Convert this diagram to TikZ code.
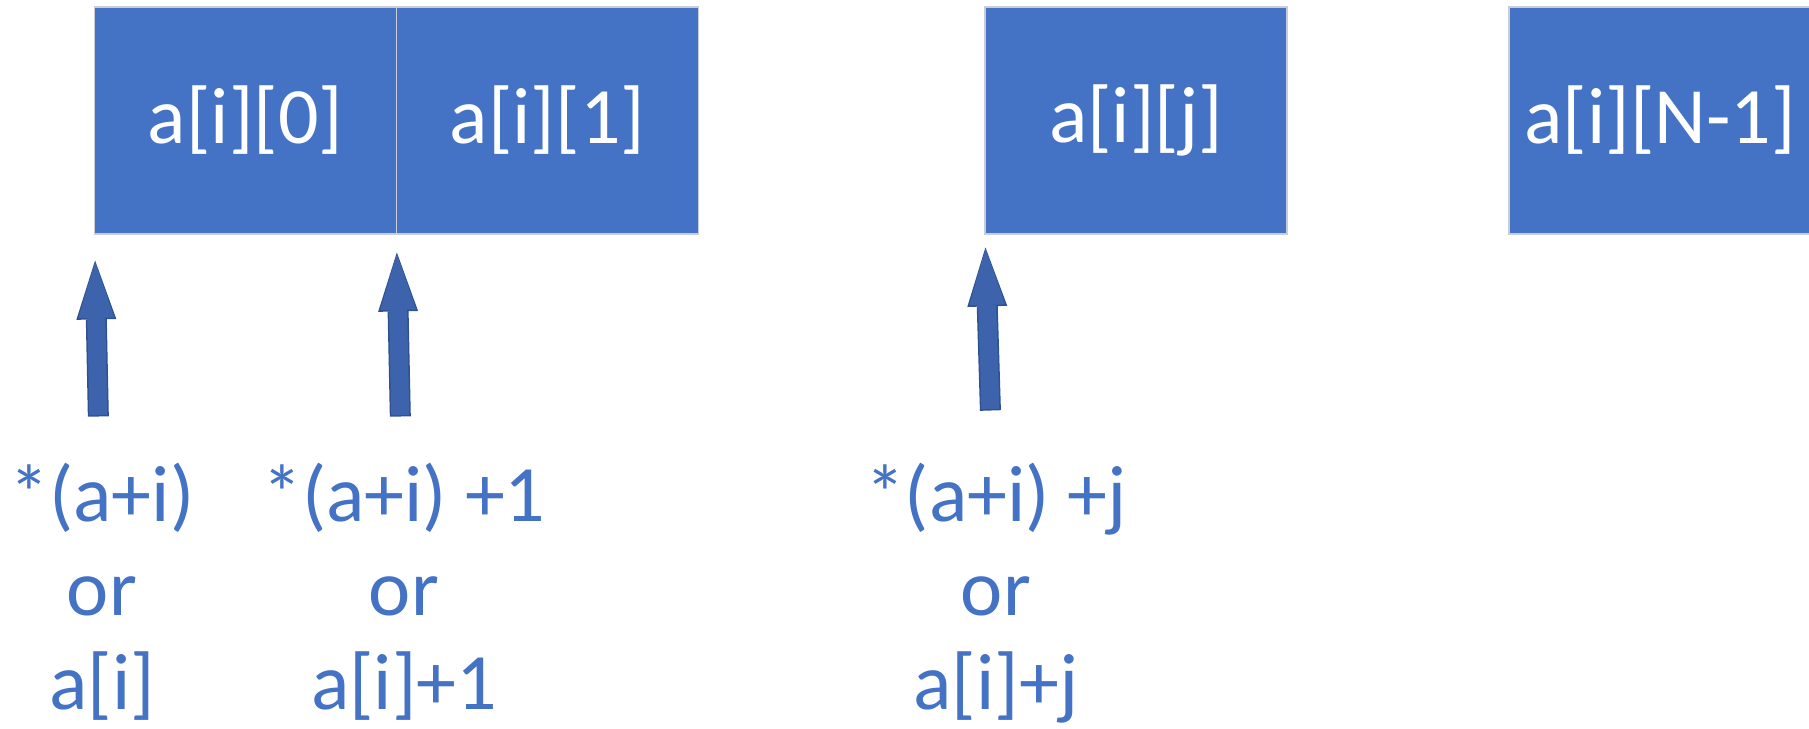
\documentclass[tikz,border=0pt]{standalone}
\usepackage{fontspec}
\setmainfont{Carlito}
\usetikzlibrary{arrows.meta, positioning}

\definecolor{cellblue}{RGB}{68,114,196}
\definecolor{ptrfill}{RGB}{61,99,172}
\definecolor{ptrline}{RGB}{47,82,143}
\definecolor{cellline}{RGB}{200,205,215}

\begin{document}
\begin{tikzpicture}[x=0.02cm, y=0.02cm,
    cell/.style={rectangle, fill=cellblue, draw=cellline, line width=0.024cm, minimum width=6.04cm, minimum height=4.54cm, outer sep=0pt, text=white, font=\fontsize{45.5}{54}\selectfont},
    addr/.style={align=center, inner sep=0pt, text=cellblue, font=\fontsize{45.5}{53.4}\selectfont},
    ptr/.style 2 args={preaction={draw=ptrline, line width=0.42cm, -{Triangle[width=0.80cm, length=1.18cm, line width=0pt]}, shorten <=#1-0.03cm, shorten >=#2-0.03cm},
                       draw=ptrfill, line width=0.36cm, -{Triangle[width=0.72cm, length=1.12cm, line width=0pt]}, shorten <=#1, shorten >=#2}]
  \useasboundingbox (0,0) rectangle (1809,729);

  \node[cell] (row0) at (245.5,608.5)           {a[i][0]};
  \node[cell] (row1) [right=0pt of row0]        {a[i][1]};
  \node[cell] (rowj) at (1136,608.5)            {a[i][j]};
  \node[cell] (rowN) at (1660,608.5)            {a[i][N-1]};

  \node[addr, anchor=north] (ptr0) at (102,266) {*(a+i)\\or\\a[i]};
  \node[addr, anchor=north] (ptr1) at (404,266) {*(a+i) +1\\or\\a[i]+1};
  \node[addr, anchor=north] (ptrj) at (996,266) {*(a+i) +j\\or\\a[i]+j};

  \path (ptr0) edge [ptr={0.96cm}{0.56cm}] (row0.south west)
        (ptr1) edge [ptr={0.96cm}{0.40cm}] (row1.south west)
        (ptrj) edge [ptr={1.08cm}{0.30cm}] (rowj.south west);
\end{tikzpicture}
\end{document}
